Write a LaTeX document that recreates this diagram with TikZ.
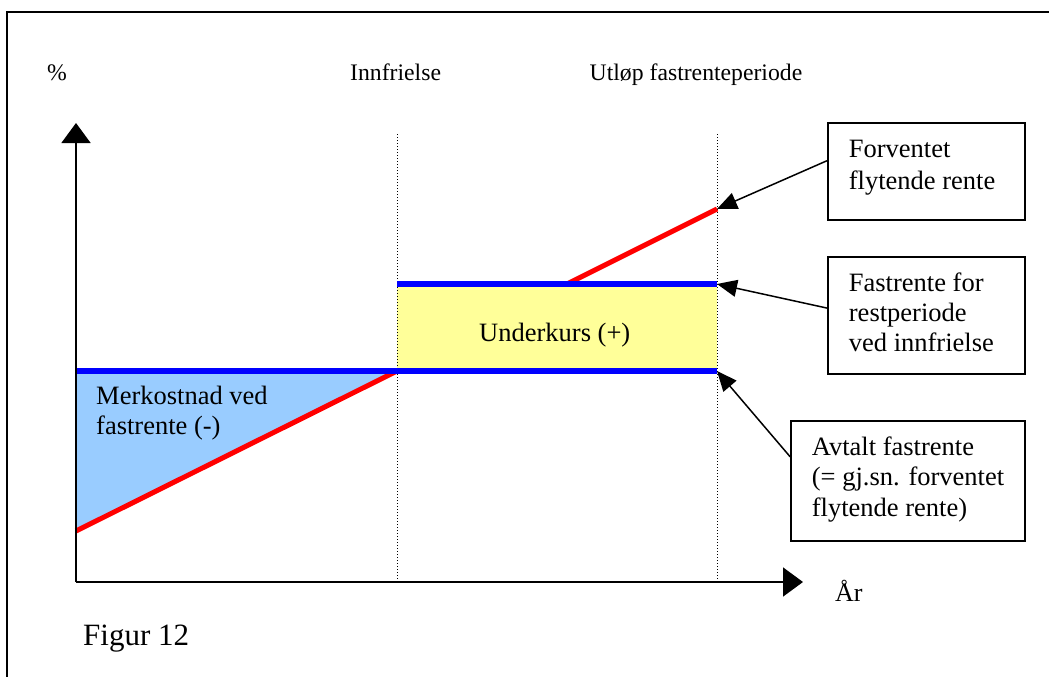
\documentclass[tikz,border=0pt]{standalone}
\usepackage{fontspec}
\setmainfont{Liberation Serif}
\usetikzlibrary{arrows.meta}
\definecolor{paleyellow}{RGB}{255,255,153}
\definecolor{paleblue}{RGB}{153,204,255}
\begin{document}
\begin{tikzpicture}[x=1pt,y=-1pt,
  frameline/.style={line width=2pt},
  axisline/.style={line width=1.6pt,-{Triangle[length=20pt,width=29pt]}},
  guide/.style={line width=1pt,dash pattern=on 1pt off 2pt},
  fixedrate/.style={line width=5.5pt,blue},
  floatrate/.style={line width=5pt,red},
  callout/.style={draw,line width=1.6pt,inner sep=0pt},
  pointer/.style={line width=1.5pt,-{Triangle[length=20pt,width=17pt]}},
  txt/.style={inner sep=0pt,font=\fontsize{26.5}{30.8}\selectfont,align=left,anchor=base west},
  toplbl/.style={inner sep=0pt,font=\fontsize{23.7}{28}\selectfont,anchor=base west},
]
\useasboundingbox (0,0) rectangle (1049,677);

% frame (cut off at right and bottom)
\coordinate (FTR) at (1049,12);
\coordinate (FTL) at (7,12);
\coordinate (FBL) at (7,677);
\draw[frameline] (FTR) -- (FTL) -- (FBL);

% key points
\coordinate (O) at (76,582);
\coordinate (Ytop) at (76,123);
\coordinate (Xend) at (803,582);
\coordinate (A1) at (76,371);
\coordinate (A2) at (397,371);
\coordinate (A3) at (717,371);
\coordinate (U1) at (397,284);
\coordinate (U2) at (717,284);
\coordinate (R0) at (76,531);
\coordinate (R1) at (567,284);
\coordinate (R2) at (717,209);
\coordinate (G1top) at (397,134);
\coordinate (G1bot) at (397,582);
\coordinate (G2top) at (717,134);
\coordinate (G2bot) at (717,582);

% fills
\fill[paleblue] (A1) -- (A2) -- (R0) -- cycle;
\fill[paleyellow] (A2) rectangle (U2);

% guides
\draw[guide] (G1top) -- (G1bot);
\draw[guide] (G2top) -- (G2bot);

% rates
\draw[floatrate] (R0) -- (A2);
\draw[floatrate] (R1) -- (R2);
\draw[fixedrate] (A1) -- (A3);
\draw[fixedrate] (U1) -- (U2);

% axes
\draw[axisline] (O) -- (Ytop);
\draw[axisline] (O) -- (Xend);

% labels
\node[toplbl] (pct) at (47,80.7) {\%};
\node[toplbl] (innf) at (350,80.7) {Innfrielse};
\node[toplbl] (utlop) at (589.5,80.7) {Utløp fastrenteperiode};
\node[txt,font=\fontsize{26}{30}\selectfont] (aar) at (835,601.7) {År};
\node[inner sep=0pt,anchor=base west,font=\fontsize{31}{36}\selectfont] (fig) at (83,645) {Figur 12};
\node[txt,font=\fontsize{26.5}{29.5}\selectfont] (merk) at (96,434) {Merkostnad ved\\fastrente (-)};
\node[txt] (under) at (479,341.7) {Underkurs (+)};

% callout boxes
\node[callout,minimum width=197.3pt,minimum height=97.3pt] (b1) at (926.35,171.35) {};
\node[callout,minimum width=197.3pt,minimum height=117.3pt] (b2) at (926.35,315.35) {};
\node[callout,minimum width=234pt,minimum height=120.3pt] (b3) at (908,480.85) {};
\node[txt,font=\fontsize{26.5}{31.3}\selectfont] (t1) at (848.7,189) {Forventet\\flytende rente};
\node[txt,font=\fontsize{26.5}{30}\selectfont] (t2) at (848.7,351.7) {Fastrente for\\restperiode\\ved innfrielse};
\node[txt] (t3) at (811.7,516.7) {Avtalt fastrente\\(= gj.sn. forventet\\flytende rente)};

% pointers
\draw[pointer] ([yshift=10.6pt]b1.west) -- (R2);
\draw[pointer] ([yshift=7.3pt]b2.west) -- (U2);
\draw[pointer] ([yshift=24pt]b3.west) -- (A3);
\end{tikzpicture}
\end{document}
